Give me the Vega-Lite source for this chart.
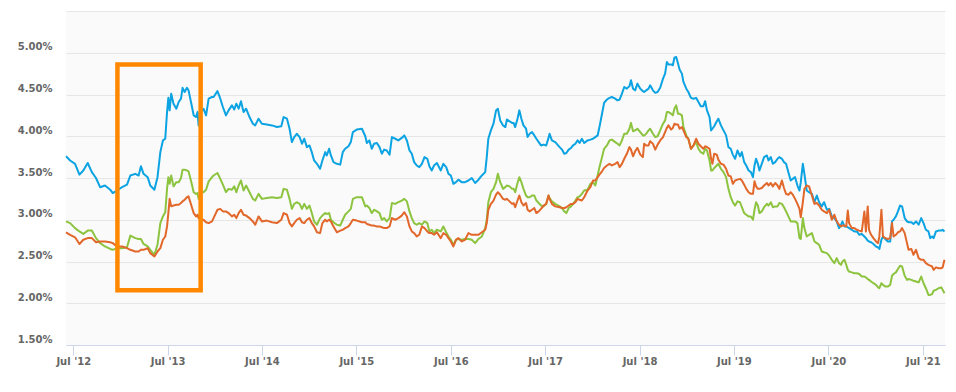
{
  "$schema": "https://vega.github.io/schema/vega-lite/v6.json",
  "width": 879,
  "height": 334,
  "autosize": {"type": "none"},
  "padding": {"left": 66, "top": 11, "right": 11, "bottom": 47},
  "background": "#ffffff",
  "config": {
    "view": {"fill": "#fafafa", "stroke": null},
    "axis": {"labelFont": "DejaVu Sans", "labelFontSize": 10, "labelFontWeight": "bold", "labelColor": "#666666"}
  },
  "layer": [
    {
      "data": {
        "format": {"parse": {"d": "date:'%Y-%j'"}},
        "values": [
          {"d":"2012-155","fixed30":3.76,"fixed15":2.98,"arm51":2.85},
          {"d":"2012-171","fixed30":3.71,"fixed15":2.96,"arm51":2.82},
          {"d":"2012-190","fixed30":3.67,"fixed15":2.90,"arm51":2.79},
          {"d":"2012-207","fixed30":3.54,"fixed15":2.86,"arm51":2.71},
          {"d":"2012-222","fixed30":3.59,"fixed15":2.83,"arm51":2.76},
          {"d":"2012-239","fixed30":3.68,"fixed15":2.87,"arm51":2.78},
          {"d":"2012-255","fixed30":3.57,"fixed15":2.87,"arm51":2.78},
          {"d":"2012-271","fixed30":3.50,"fixed15":2.78,"arm51":2.73},
          {"d":"2012-287","fixed30":3.39,"fixed15":2.72,"arm51":2.74},
          {"d":"2012-306","fixed30":3.41,"fixed15":2.68,"arm51":2.74},
          {"d":"2012-326","fixed30":3.36,"fixed15":2.65,"arm51":2.73},
          {"d":"2012-336","fixed30":3.32,"fixed15":2.64,"arm51":2.72},
          {"d":"2012-352","fixed30":3.35,"fixed15":2.66,"arm51":2.68},
          {"d":"2013-006","fixed30":3.39,"fixed15":2.66,"arm51":2.68},
          {"d":"2013-025","fixed30":3.42,"fixed15":2.67,"arm51":2.66},
          {"d":"2013-038","fixed30":3.53,"fixed15":2.81,"arm51":2.64},
          {"d":"2013-057","fixed30":3.55,"fixed15":2.78,"arm51":2.62},
          {"d":"2013-070","fixed30":3.53,"fixed15":2.77,"arm51":2.62},
          {"d":"2013-079","fixed30":3.64,"fixed15":2.77,"arm51":2.64},
          {"d":"2013-089","fixed30":3.55,"fixed15":2.71,"arm51":2.64},
          {"d":"2013-105","fixed30":3.51,"fixed15":2.68,"arm51":2.66},
          {"d":"2013-115","fixed30":3.41,"fixed15":2.64,"arm51":2.60},
          {"d":"2013-131","fixed30":3.36,"fixed15":2.58,"arm51":2.56},
          {"d":"2013-143","fixed30":3.51,"fixed15":2.70,"arm51":2.62},
          {"d":"2013-154","fixed30":3.81,"fixed15":2.96,"arm51":2.66},
          {"d":"2013-164","fixed30":3.95,"fixed15":3.04,"arm51":2.76},
          {"d":"2013-173","fixed30":3.97,"fixed15":3.09,"arm51":2.80},
          {"d":"2013-180","fixed30":4.29,"fixed15":3.37,"arm51":2.92},
          {"d":"2013-185","fixed30":4.46,"fixed15":3.51,"arm51":3.08},
          {"d":"2013-190","fixed30":4.31,"fixed15":3.43,"arm51":3.25},
          {"d":"2013-196","fixed30":4.51,"fixed15":3.53,"arm51":3.16},
          {"d":"2013-205","fixed30":4.39,"fixed15":3.40,"arm51":3.17},
          {"d":"2013-216","fixed30":4.33,"fixed15":3.45,"arm51":3.18},
          {"d":"2013-225","fixed30":4.41,"fixed15":3.45,"arm51":3.18},
          {"d":"2013-234","fixed30":4.45,"fixed15":3.50,"arm51":3.20},
          {"d":"2013-240","fixed30":4.58,"fixed15":3.60,"arm51":3.22},
          {"d":"2013-248","fixed30":4.53,"fixed15":3.60,"arm51":3.24},
          {"d":"2013-257","fixed30":4.58,"fixed15":3.59,"arm51":3.27},
          {"d":"2013-263","fixed30":4.55,"fixed15":3.58,"arm51":3.28},
          {"d":"2013-274","fixed30":4.39,"fixed15":3.45,"arm51":3.17},
          {"d":"2013-283","fixed30":4.25,"fixed15":3.33,"arm51":3.08},
          {"d":"2013-292","fixed30":4.23,"fixed15":3.31,"arm51":3.04},
          {"d":"2013-298","fixed30":4.29,"fixed15":3.32,"arm51":3.06},
          {"d":"2013-302","fixed30":4.13,"fixed15":3.25,"arm51":3.02},
          {"d":"2013-311","fixed30":4.29,"fixed15":3.33,"arm51":3.00},
          {"d":"2013-321","fixed30":4.33,"fixed15":3.33,"arm51":3.00},
          {"d":"2013-331","fixed30":4.25,"fixed15":3.36,"arm51":2.97},
          {"d":"2013-341","fixed30":4.45,"fixed15":3.46,"arm51":2.96},
          {"d":"2013-354","fixed30":4.47,"fixed15":3.51,"arm51":2.98},
          {"d":"2013-360","fixed30":4.47,"fixed15":3.53,"arm51":3.02},
          {"d":"2014-010","fixed30":4.54,"fixed15":3.56,"arm51":3.12},
          {"d":"2014-021","fixed30":4.45,"fixed15":3.49,"arm51":3.13},
          {"d":"2014-031","fixed30":4.35,"fixed15":3.42,"arm51":3.10},
          {"d":"2014-043","fixed30":4.25,"fixed15":3.33,"arm51":3.10},
          {"d":"2014-053","fixed30":4.31,"fixed15":3.37,"arm51":3.08},
          {"d":"2014-066","fixed30":4.37,"fixed15":3.36,"arm51":3.04},
          {"d":"2014-075","fixed30":4.32,"fixed15":3.40,"arm51":3.06},
          {"d":"2014-083","fixed30":4.39,"fixed15":3.33,"arm51":3.02},
          {"d":"2014-092","fixed30":4.33,"fixed15":3.41,"arm51":3.08},
          {"d":"2014-101","fixed30":4.42,"fixed15":3.47,"arm51":3.12},
          {"d":"2014-111","fixed30":4.29,"fixed15":3.35,"arm51":3.06},
          {"d":"2014-121","fixed30":4.33,"fixed15":3.41,"arm51":3.05},
          {"d":"2014-134","fixed30":4.23,"fixed15":3.33,"arm51":3.02},
          {"d":"2014-147","fixed30":4.15,"fixed15":3.25,"arm51":2.98},
          {"d":"2014-156","fixed30":4.13,"fixed15":3.23,"arm51":2.94},
          {"d":"2014-169","fixed30":4.21,"fixed15":3.31,"arm51":3.04},
          {"d":"2014-182","fixed30":4.15,"fixed15":3.25,"arm51":2.98},
          {"d":"2014-201","fixed30":4.14,"fixed15":3.26,"arm51":2.99},
          {"d":"2014-221","fixed30":4.13,"fixed15":3.27,"arm51":2.97},
          {"d":"2014-240","fixed30":4.11,"fixed15":3.26,"arm51":2.96},
          {"d":"2014-257","fixed30":4.12,"fixed15":3.27,"arm51":3.00},
          {"d":"2014-266","fixed30":4.23,"fixed15":3.37,"arm51":3.08},
          {"d":"2014-279","fixed30":4.21,"fixed15":3.36,"arm51":3.06},
          {"d":"2014-289","fixed30":4.09,"fixed15":3.25,"arm51":2.96},
          {"d":"2014-298","fixed30":3.93,"fixed15":3.13,"arm51":2.92},
          {"d":"2014-307","fixed30":3.99,"fixed15":3.19,"arm51":2.96},
          {"d":"2014-317","fixed30":4.03,"fixed15":3.21,"arm51":3.00},
          {"d":"2014-328","fixed30":3.99,"fixed15":3.19,"arm51":3.02},
          {"d":"2014-337","fixed30":3.91,"fixed15":3.13,"arm51":2.97},
          {"d":"2014-346","fixed30":3.97,"fixed15":3.19,"arm51":2.96},
          {"d":"2014-356","fixed30":3.87,"fixed15":3.13,"arm51":3.00},
          {"d":"2015-001","fixed30":3.89,"fixed15":3.17,"arm51":3.02},
          {"d":"2015-010","fixed30":3.81,"fixed15":3.08,"arm51":2.96},
          {"d":"2015-019","fixed30":3.71,"fixed15":2.98,"arm51":2.92},
          {"d":"2015-030","fixed30":3.67,"fixed15":2.94,"arm51":2.85},
          {"d":"2015-042","fixed30":3.61,"fixed15":3.02,"arm51":2.84},
          {"d":"2015-051","fixed30":3.71,"fixed15":3.05,"arm51":2.96},
          {"d":"2015-062","fixed30":3.81,"fixed15":3.08,"arm51":3.00},
          {"d":"2015-068","fixed30":3.77,"fixed15":3.07,"arm51":2.98},
          {"d":"2015-077","fixed30":3.85,"fixed15":3.08,"arm51":3.00},
          {"d":"2015-084","fixed30":3.77,"fixed15":3.00,"arm51":2.98},
          {"d":"2015-094","fixed30":3.69,"fixed15":2.97,"arm51":2.92},
          {"d":"2015-107","fixed30":3.67,"fixed15":2.94,"arm51":2.85},
          {"d":"2015-120","fixed30":3.66,"fixed15":2.93,"arm51":2.87},
          {"d":"2015-130","fixed30":3.81,"fixed15":3.00,"arm51":2.88},
          {"d":"2015-139","fixed30":3.85,"fixed15":3.06,"arm51":2.90},
          {"d":"2015-152","fixed30":3.88,"fixed15":3.10,"arm51":2.92},
          {"d":"2015-161","fixed30":3.93,"fixed15":3.13,"arm51":2.96},
          {"d":"2015-169","fixed30":4.05,"fixed15":3.25,"arm51":3.00},
          {"d":"2015-184","fixed30":4.08,"fixed15":3.27,"arm51":2.99},
          {"d":"2015-204","fixed30":4.09,"fixed15":3.27,"arm51":2.97},
          {"d":"2015-217","fixed30":4.00,"fixed15":3.16,"arm51":2.97},
          {"d":"2015-223","fixed30":3.92,"fixed15":3.17,"arm51":2.95},
          {"d":"2015-233","fixed30":3.95,"fixed15":3.14,"arm51":2.94},
          {"d":"2015-242","fixed30":3.85,"fixed15":3.08,"arm51":2.93},
          {"d":"2015-251","fixed30":3.91,"fixed15":3.12,"arm51":2.93},
          {"d":"2015-262","fixed30":3.92,"fixed15":3.10,"arm51":2.92},
          {"d":"2015-272","fixed30":3.87,"fixed15":3.08,"arm51":2.92},
          {"d":"2015-281","fixed30":3.79,"fixed15":3.00,"arm51":2.91},
          {"d":"2015-290","fixed30":3.84,"fixed15":3.02,"arm51":2.90},
          {"d":"2015-300","fixed30":3.83,"fixed15":2.98,"arm51":2.90},
          {"d":"2015-311","fixed30":3.78,"fixed15":3.02,"arm51":2.92},
          {"d":"2015-320","fixed30":3.99,"fixed15":3.20,"arm51":3.02},
          {"d":"2015-333","fixed30":3.97,"fixed15":3.19,"arm51":3.00},
          {"d":"2015-345","fixed30":3.95,"fixed15":3.21,"arm51":3.02},
          {"d":"2015-358","fixed30":3.98,"fixed15":3.23,"arm51":3.05},
          {"d":"2016-003","fixed30":4.01,"fixed15":3.25,"arm51":3.09},
          {"d":"2016-013","fixed30":3.95,"fixed15":3.22,"arm51":3.04},
          {"d":"2016-023","fixed30":3.83,"fixed15":3.10,"arm51":2.92},
          {"d":"2016-032","fixed30":3.79,"fixed15":3.02,"arm51":2.86},
          {"d":"2016-041","fixed30":3.69,"fixed15":2.96,"arm51":2.84},
          {"d":"2016-051","fixed30":3.65,"fixed15":2.94,"arm51":2.80},
          {"d":"2016-061","fixed30":3.63,"fixed15":2.96,"arm51":2.82},
          {"d":"2016-071","fixed30":3.67,"fixed15":2.94,"arm51":2.92},
          {"d":"2016-081","fixed30":3.75,"fixed15":2.98,"arm51":2.90},
          {"d":"2016-092","fixed30":3.73,"fixed15":2.96,"arm51":2.86},
          {"d":"2016-100","fixed30":3.64,"fixed15":2.86,"arm51":2.84},
          {"d":"2016-109","fixed30":3.59,"fixed15":2.88,"arm51":2.84},
          {"d":"2016-118","fixed30":3.65,"fixed15":2.84,"arm51":2.82},
          {"d":"2016-129","fixed30":3.68,"fixed15":2.88,"arm51":2.85},
          {"d":"2016-144","fixed30":3.59,"fixed15":2.86,"arm51":2.78},
          {"d":"2016-154","fixed30":3.67,"fixed15":2.92,"arm51":2.84},
          {"d":"2016-165","fixed30":3.63,"fixed15":2.85,"arm51":2.82},
          {"d":"2016-174","fixed30":3.55,"fixed15":2.80,"arm51":2.78},
          {"d":"2016-183","fixed30":3.53,"fixed15":2.76,"arm51":2.74},
          {"d":"2016-193","fixed30":3.43,"fixed15":2.70,"arm51":2.68},
          {"d":"2016-203","fixed30":3.45,"fixed15":2.76,"arm51":2.76},
          {"d":"2016-212","fixed30":3.48,"fixed15":2.77,"arm51":2.78},
          {"d":"2016-225","fixed30":3.45,"fixed15":2.76,"arm51":2.74},
          {"d":"2016-238","fixed30":3.45,"fixed15":2.77,"arm51":2.76},
          {"d":"2016-251","fixed30":3.47,"fixed15":2.77,"arm51":2.84},
          {"d":"2016-264","fixed30":3.50,"fixed15":2.76,"arm51":2.82},
          {"d":"2016-277","fixed30":3.44,"fixed15":2.72,"arm51":2.82},
          {"d":"2016-290","fixed30":3.48,"fixed15":2.77,"arm51":2.82},
          {"d":"2016-303","fixed30":3.53,"fixed15":2.80,"arm51":2.85},
          {"d":"2016-316","fixed30":3.57,"fixed15":2.90,"arm51":2.88},
          {"d":"2016-322","fixed30":3.75,"fixed15":3.00,"arm51":2.96},
          {"d":"2016-328","fixed30":3.97,"fixed15":3.21,"arm51":3.12},
          {"d":"2016-338","fixed30":4.07,"fixed15":3.33,"arm51":3.19},
          {"d":"2016-348","fixed30":4.15,"fixed15":3.37,"arm51":3.23},
          {"d":"2016-358","fixed30":4.31,"fixed15":3.45,"arm51":3.30},
          {"d":"2016-365","fixed30":4.33,"fixed15":3.55,"arm51":3.33},
          {"d":"2017-008","fixed30":4.19,"fixed15":3.45,"arm51":3.30},
          {"d":"2017-019","fixed30":4.13,"fixed15":3.37,"arm51":3.25},
          {"d":"2017-028","fixed30":4.11,"fixed15":3.39,"arm51":3.24},
          {"d":"2017-034","fixed30":4.20,"fixed15":3.41,"arm51":3.25},
          {"d":"2017-044","fixed30":4.18,"fixed15":3.40,"arm51":3.22},
          {"d":"2017-054","fixed30":4.16,"fixed15":3.37,"arm51":3.19},
          {"d":"2017-060","fixed30":4.16,"fixed15":3.37,"arm51":3.20},
          {"d":"2017-066","fixed30":4.11,"fixed15":3.33,"arm51":3.15},
          {"d":"2017-075","fixed30":4.21,"fixed15":3.44,"arm51":3.23},
          {"d":"2017-082","fixed30":4.31,"fixed15":3.51,"arm51":3.29},
          {"d":"2017-090","fixed30":4.21,"fixed15":3.45,"arm51":3.21},
          {"d":"2017-098","fixed30":4.13,"fixed15":3.37,"arm51":3.17},
          {"d":"2017-108","fixed30":4.09,"fixed15":3.29,"arm51":3.20},
          {"d":"2017-114","fixed30":3.99,"fixed15":3.27,"arm51":3.12},
          {"d":"2017-122","fixed30":4.03,"fixed15":3.27,"arm51":3.10},
          {"d":"2017-131","fixed30":4.05,"fixed15":3.29,"arm51":3.12},
          {"d":"2017-140","fixed30":4.01,"fixed15":3.29,"arm51":3.14},
          {"d":"2017-148","fixed30":3.97,"fixed15":3.23,"arm51":3.08},
          {"d":"2017-157","fixed30":3.93,"fixed15":3.20,"arm51":3.10},
          {"d":"2017-166","fixed30":3.89,"fixed15":3.17,"arm51":3.13},
          {"d":"2017-176","fixed30":3.90,"fixed15":3.16,"arm51":3.17},
          {"d":"2017-186","fixed30":3.89,"fixed15":3.19,"arm51":3.19},
          {"d":"2017-195","fixed30":3.98,"fixed15":3.29,"arm51":3.29},
          {"d":"2017-199","fixed30":4.03,"fixed15":3.26,"arm51":3.25},
          {"d":"2017-208","fixed30":3.95,"fixed15":3.22,"arm51":3.19},
          {"d":"2017-221","fixed30":3.93,"fixed15":3.19,"arm51":3.16},
          {"d":"2017-238","fixed30":3.87,"fixed15":3.16,"arm51":3.15},
          {"d":"2017-247","fixed30":3.84,"fixed15":3.14,"arm51":3.14},
          {"d":"2017-256","fixed30":3.79,"fixed15":3.10,"arm51":3.14},
          {"d":"2017-264","fixed30":3.80,"fixed15":3.08,"arm51":3.15},
          {"d":"2017-273","fixed30":3.84,"fixed15":3.14,"arm51":3.17},
          {"d":"2017-282","fixed30":3.86,"fixed15":3.16,"arm51":3.19},
          {"d":"2017-290","fixed30":3.89,"fixed15":3.19,"arm51":3.19},
          {"d":"2017-299","fixed30":3.91,"fixed15":3.23,"arm51":3.21},
          {"d":"2017-307","fixed30":3.95,"fixed15":3.27,"arm51":3.25},
          {"d":"2017-315","fixed30":3.92,"fixed15":3.28,"arm51":3.24},
          {"d":"2017-324","fixed30":3.97,"fixed15":3.31,"arm51":3.23},
          {"d":"2017-333","fixed30":3.92,"fixed15":3.35,"arm51":3.27},
          {"d":"2017-346","fixed30":3.95,"fixed15":3.36,"arm51":3.35},
          {"d":"2017-357","fixed30":3.96,"fixed15":3.43,"arm51":3.39},
          {"d":"2018-002","fixed30":3.97,"fixed15":3.45,"arm51":3.47},
          {"d":"2018-011","fixed30":3.99,"fixed15":3.41,"arm51":3.47},
          {"d":"2018-020","fixed30":4.01,"fixed15":3.53,"arm51":3.51},
          {"d":"2018-027","fixed30":4.11,"fixed15":3.63,"arm51":3.54},
          {"d":"2018-037","fixed30":4.27,"fixed15":3.75,"arm51":3.58},
          {"d":"2018-045","fixed30":4.40,"fixed15":3.85,"arm51":3.62},
          {"d":"2018-056","fixed30":4.44,"fixed15":3.89,"arm51":3.65},
          {"d":"2018-066","fixed30":4.46,"fixed15":3.95,"arm51":3.67},
          {"d":"2018-075","fixed30":4.47,"fixed15":3.96,"arm51":3.65},
          {"d":"2018-088","fixed30":4.45,"fixed15":3.93,"arm51":3.67},
          {"d":"2018-097","fixed30":4.43,"fixed15":3.91,"arm51":3.69},
          {"d":"2018-105","fixed30":4.44,"fixed15":3.89,"arm51":3.63},
          {"d":"2018-114","fixed30":4.51,"fixed15":3.95,"arm51":3.67},
          {"d":"2018-123","fixed30":4.59,"fixed15":4.03,"arm51":3.73},
          {"d":"2018-133","fixed30":4.57,"fixed15":4.03,"arm51":3.79},
          {"d":"2018-143","fixed30":4.60,"fixed15":4.09,"arm51":3.87},
          {"d":"2018-149","fixed30":4.67,"fixed15":4.16,"arm51":3.84},
          {"d":"2018-157","fixed30":4.57,"fixed15":4.06,"arm51":3.76},
          {"d":"2018-165","fixed30":4.55,"fixed15":4.07,"arm51":3.82},
          {"d":"2018-174","fixed30":4.63,"fixed15":4.09,"arm51":3.86},
          {"d":"2018-185","fixed30":4.57,"fixed15":4.05,"arm51":3.78},
          {"d":"2018-195","fixed30":4.54,"fixed15":4.01,"arm51":3.75},
          {"d":"2018-200","fixed30":4.53,"fixed15":4.01,"arm51":3.91},
          {"d":"2018-208","fixed30":4.55,"fixed15":4.03,"arm51":3.89},
          {"d":"2018-217","fixed30":4.57,"fixed15":4.07,"arm51":3.89},
          {"d":"2018-223","fixed30":4.61,"fixed15":4.09,"arm51":3.94},
          {"d":"2018-234","fixed30":4.55,"fixed15":4.03,"arm51":3.91},
          {"d":"2018-243","fixed30":4.52,"fixed15":3.99,"arm51":3.84},
          {"d":"2018-252","fixed30":4.53,"fixed15":4.00,"arm51":3.90},
          {"d":"2018-262","fixed30":4.58,"fixed15":4.07,"arm51":3.95},
          {"d":"2018-273","fixed30":4.69,"fixed15":4.15,"arm51":3.99},
          {"d":"2018-281","fixed30":4.75,"fixed15":4.19,"arm51":4.05},
          {"d":"2018-288","fixed30":4.89,"fixed15":4.29,"arm51":4.10},
          {"d":"2018-294","fixed30":4.86,"fixed15":4.29,"arm51":4.13},
          {"d":"2018-304","fixed30":4.86,"fixed15":4.27,"arm51":4.08},
          {"d":"2018-311","fixed30":4.85,"fixed15":4.25,"arm51":4.10},
          {"d":"2018-317","fixed30":4.94,"fixed15":4.33,"arm51":4.15},
          {"d":"2018-324","fixed30":4.95,"fixed15":4.37,"arm51":4.14},
          {"d":"2018-331","fixed30":4.87,"fixed15":4.27,"arm51":4.14},
          {"d":"2018-337","fixed30":4.80,"fixed15":4.27,"arm51":4.09},
          {"d":"2018-346","fixed30":4.75,"fixed15":4.25,"arm51":4.11},
          {"d":"2018-352","fixed30":4.65,"fixed15":4.11,"arm51":4.07},
          {"d":"2018-363","fixed30":4.57,"fixed15":4.01,"arm51":3.99},
          {"d":"2019-006","fixed30":4.53,"fixed15":3.97,"arm51":3.97},
          {"d":"2019-016","fixed30":4.46,"fixed15":3.85,"arm51":3.85},
          {"d":"2019-026","fixed30":4.45,"fixed15":3.89,"arm51":3.89},
          {"d":"2019-036","fixed30":4.46,"fixed15":3.93,"arm51":3.97},
          {"d":"2019-045","fixed30":4.41,"fixed15":3.85,"arm51":3.91},
          {"d":"2019-054","fixed30":4.36,"fixed15":3.81,"arm51":3.88},
          {"d":"2019-064","fixed30":4.36,"fixed15":3.79,"arm51":3.85},
          {"d":"2019-071","fixed30":4.42,"fixed15":3.85,"arm51":3.88},
          {"d":"2019-078","fixed30":4.31,"fixed15":3.83,"arm51":3.87},
          {"d":"2019-088","fixed30":4.23,"fixed15":3.71,"arm51":3.85},
          {"d":"2019-094","fixed30":4.07,"fixed15":3.59,"arm51":3.73},
          {"d":"2019-099","fixed30":4.09,"fixed15":3.59,"arm51":3.67},
          {"d":"2019-106","fixed30":4.12,"fixed15":3.62,"arm51":3.79},
          {"d":"2019-116","fixed30":4.18,"fixed15":3.65,"arm51":3.78},
          {"d":"2019-122","fixed30":4.21,"fixed15":3.67,"arm51":3.72},
          {"d":"2019-132","fixed30":4.13,"fixed15":3.61,"arm51":3.67},
          {"d":"2019-142","fixed30":4.07,"fixed15":3.57,"arm51":3.66},
          {"d":"2019-152","fixed30":4.01,"fixed15":3.51,"arm51":3.61},
          {"d":"2019-161","fixed30":3.87,"fixed15":3.37,"arm51":3.53},
          {"d":"2019-170","fixed30":3.85,"fixed15":3.27,"arm51":3.52},
          {"d":"2019-178","fixed30":3.78,"fixed15":3.21,"arm51":3.43},
          {"d":"2019-187","fixed30":3.73,"fixed15":3.17,"arm51":3.47},
          {"d":"2019-196","fixed30":3.83,"fixed15":3.22,"arm51":3.48},
          {"d":"2019-206","fixed30":3.76,"fixed15":3.21,"arm51":3.49},
          {"d":"2019-213","fixed30":3.81,"fixed15":3.15,"arm51":3.47},
          {"d":"2019-222","fixed30":3.69,"fixed15":3.08,"arm51":3.42},
          {"d":"2019-230","fixed30":3.65,"fixed15":3.06,"arm51":3.37},
          {"d":"2019-239","fixed30":3.59,"fixed15":3.04,"arm51":3.33},
          {"d":"2019-248","fixed30":3.57,"fixed15":3.04,"arm51":3.31},
          {"d":"2019-256","fixed30":3.51,"fixed15":3.00,"arm51":3.31},
          {"d":"2019-262","fixed30":3.65,"fixed15":3.12,"arm51":3.46},
          {"d":"2019-268","fixed30":3.73,"fixed15":3.21,"arm51":3.40},
          {"d":"2019-275","fixed30":3.67,"fixed15":3.17,"arm51":3.37},
          {"d":"2019-281","fixed30":3.59,"fixed15":3.08,"arm51":3.37},
          {"d":"2019-290","fixed30":3.67,"fixed15":3.10,"arm51":3.38},
          {"d":"2019-299","fixed30":3.75,"fixed15":3.15,"arm51":3.41},
          {"d":"2019-310","fixed30":3.77,"fixed15":3.19,"arm51":3.44},
          {"d":"2019-316","fixed30":3.71,"fixed15":3.17,"arm51":3.41},
          {"d":"2019-325","fixed30":3.75,"fixed15":3.21,"arm51":3.44},
          {"d":"2019-333","fixed30":3.67,"fixed15":3.15,"arm51":3.40},
          {"d":"2019-342","fixed30":3.69,"fixed15":3.16,"arm51":3.44},
          {"d":"2019-351","fixed30":3.73,"fixed15":3.16,"arm51":3.41},
          {"d":"2019-358","fixed30":3.75,"fixed15":3.20,"arm51":3.37},
          {"d":"2020-003","fixed30":3.73,"fixed15":3.19,"arm51":3.47},
          {"d":"2020-011","fixed30":3.69,"fixed15":3.15,"arm51":3.38},
          {"d":"2020-019","fixed30":3.67,"fixed15":3.10,"arm51":3.31},
          {"d":"2020-028","fixed30":3.57,"fixed15":3.04,"arm51":3.30},
          {"d":"2020-037","fixed30":3.47,"fixed15":2.98,"arm51":3.33},
          {"d":"2020-045","fixed30":3.49,"fixed15":2.98,"arm51":3.30},
          {"d":"2020-054","fixed30":3.51,"fixed15":2.98,"arm51":3.25},
          {"d":"2020-063","fixed30":3.41,"fixed15":2.96,"arm51":3.19},
          {"d":"2020-071","fixed30":3.35,"fixed15":2.78,"arm51":3.13},
          {"d":"2020-076","fixed30":3.45,"fixed15":2.77,"arm51":3.03},
          {"d":"2020-084","fixed30":3.67,"fixed15":3.02,"arm51":3.21},
          {"d":"2020-090","fixed30":3.55,"fixed15":2.90,"arm51":3.37},
          {"d":"2020-099","fixed30":3.35,"fixed15":2.80,"arm51":3.41},
          {"d":"2020-108","fixed30":3.33,"fixed15":2.82,"arm51":3.40},
          {"d":"2020-119","fixed30":3.31,"fixed15":2.84,"arm51":3.29},
          {"d":"2020-129","fixed30":3.21,"fixed15":2.74,"arm51":3.19},
          {"d":"2020-138","fixed30":3.29,"fixed15":2.72,"arm51":3.20},
          {"d":"2020-147","fixed30":3.21,"fixed15":2.70,"arm51":3.17},
          {"d":"2020-157","fixed30":3.16,"fixed15":2.62,"arm51":3.12},
          {"d":"2020-166","fixed30":3.21,"fixed15":2.61,"arm51":3.10},
          {"d":"2020-177","fixed30":3.12,"fixed15":2.60,"arm51":3.08},
          {"d":"2020-186","fixed30":3.13,"fixed15":2.57,"arm51":3.12},
          {"d":"2020-196","fixed30":3.04,"fixed15":2.52,"arm51":3.00},
          {"d":"2020-206","fixed30":3.02,"fixed15":2.48,"arm51":3.06},
          {"d":"2020-215","fixed30":2.98,"fixed15":2.54,"arm51":2.98},
          {"d":"2020-224","fixed30":2.90,"fixed15":2.48,"arm51":2.94},
          {"d":"2020-232","fixed30":2.94,"fixed15":2.46,"arm51":2.92},
          {"d":"2020-237","fixed30":2.98,"fixed15":2.50,"arm51":2.93},
          {"d":"2020-245","fixed30":2.92,"fixed15":2.52,"arm51":2.93},
          {"d":"2020-252","fixed30":2.92,"fixed15":2.46,"arm51":2.92},
          {"d":"2020-258","fixed30":2.91,"fixed15":2.40,"arm51":3.11},
          {"d":"2020-263","fixed30":2.90,"fixed15":2.38,"arm51":2.96},
          {"d":"2020-273","fixed30":2.88,"fixed15":2.37,"arm51":2.90},
          {"d":"2020-283","fixed30":2.86,"fixed15":2.36,"arm51":2.90},
          {"d":"2020-293","fixed30":2.86,"fixed15":2.36,"arm51":2.88},
          {"d":"2020-302","fixed30":2.82,"fixed15":2.35,"arm51":2.87},
          {"d":"2020-312","fixed30":2.83,"fixed15":2.32,"arm51":2.86},
          {"d":"2020-322","fixed30":2.80,"fixed15":2.32,"arm51":3.10},
          {"d":"2020-328","fixed30":2.78,"fixed15":2.31,"arm51":2.86},
          {"d":"2020-335","fixed30":2.75,"fixed15":2.29,"arm51":3.16},
          {"d":"2020-340","fixed30":2.74,"fixed15":2.28,"arm51":2.88},
          {"d":"2020-348","fixed30":2.73,"fixed15":2.26,"arm51":2.82},
          {"d":"2020-357","fixed30":2.71,"fixed15":2.24,"arm51":2.78},
          {"d":"2021-001","fixed30":2.68,"fixed15":2.22,"arm51":2.74},
          {"d":"2021-009","fixed30":2.67,"fixed15":2.19,"arm51":2.72},
          {"d":"2021-014","fixed30":2.65,"fixed15":2.18,"arm51":2.80},
          {"d":"2021-022","fixed30":2.76,"fixed15":2.24,"arm51":3.12},
          {"d":"2021-028","fixed30":2.80,"fixed15":2.22,"arm51":2.80},
          {"d":"2021-037","fixed30":2.77,"fixed15":2.20,"arm51":2.78},
          {"d":"2021-047","fixed30":2.74,"fixed15":2.20,"arm51":2.77},
          {"d":"2021-056","fixed30":2.74,"fixed15":2.22,"arm51":2.78},
          {"d":"2021-063","fixed30":2.98,"fixed15":2.33,"arm51":2.96},
          {"d":"2021-069","fixed30":3.00,"fixed15":2.35,"arm51":2.80},
          {"d":"2021-078","fixed30":3.04,"fixed15":2.37,"arm51":2.82},
          {"d":"2021-086","fixed30":3.10,"fixed15":2.41,"arm51":2.85},
          {"d":"2021-094","fixed30":3.17,"fixed15":2.45,"arm51":2.86},
          {"d":"2021-102","fixed30":3.16,"fixed15":2.44,"arm51":2.90},
          {"d":"2021-112","fixed30":3.02,"fixed15":2.33,"arm51":2.84},
          {"d":"2021-121","fixed30":2.98,"fixed15":2.28,"arm51":2.72},
          {"d":"2021-127","fixed30":2.97,"fixed15":2.29,"arm51":2.64},
          {"d":"2021-138","fixed30":2.97,"fixed15":2.28,"arm51":2.65},
          {"d":"2021-146","fixed30":2.95,"fixed15":2.27,"arm51":2.58},
          {"d":"2021-156","fixed30":2.98,"fixed15":2.26,"arm51":2.64},
          {"d":"2021-166","fixed30":2.94,"fixed15":2.25,"arm51":2.54},
          {"d":"2021-176","fixed30":3.02,"fixed15":2.32,"arm51":2.52},
          {"d":"2021-185","fixed30":2.96,"fixed15":2.24,"arm51":2.52},
          {"d":"2021-194","fixed30":2.88,"fixed15":2.18,"arm51":2.48},
          {"d":"2021-204","fixed30":2.86,"fixed15":2.10,"arm51":2.46},
          {"d":"2021-211","fixed30":2.78,"fixed15":2.10,"arm51":2.45},
          {"d":"2021-218","fixed30":2.80,"fixed15":2.11,"arm51":2.44},
          {"d":"2021-224","fixed30":2.78,"fixed15":2.15,"arm51":2.40},
          {"d":"2021-233","fixed30":2.86,"fixed15":2.16,"arm51":2.43},
          {"d":"2021-243","fixed30":2.87,"fixed15":2.18,"arm51":2.42},
          {"d":"2021-254","fixed30":2.87,"fixed15":2.19,"arm51":2.42},
          {"d":"2021-259","fixed30":2.88,"fixed15":2.16,"arm51":2.43},
          {"d":"2021-266","fixed30":2.86,"fixed15":2.12,"arm51":2.52}
        ]
      },
      "transform": [{"fold": ["fixed30", "fixed15", "arm51"], "as": ["series", "rate"]}],
      "mark": {"type": "line", "strokeWidth": 2, "strokeJoin": "round"},
      "encoding": {
        "x": {
          "field": "d", "type": "temporal",
          "scale": {"domain": [{"year": 2012, "month": 6, "date": 3}, {"year": 2021, "month": 9, "date": 25}], "nice": false},
          "axis": {
            "title": null,
            "values": [
              {"year": 2012, "month": 7, "date": 1}, {"year": 2013, "month": 7, "date": 1},
              {"year": 2014, "month": 7, "date": 1}, {"year": 2015, "month": 7, "date": 1},
              {"year": 2016, "month": 7, "date": 1}, {"year": 2017, "month": 7, "date": 1},
              {"year": 2018, "month": 7, "date": 1}, {"year": 2019, "month": 7, "date": 1},
              {"year": 2020, "month": 7, "date": 1}, {"year": 2021, "month": 7, "date": 1}
            ],
            "format": "%b '%y",
            "grid": false,
            "domainColor": "#ccd6eb",
            "tickColor": "#ccd6eb",
            "tickSize": 10,
            "labelPadding": 1,
            "labelFlush": false,
            "labelOverlap": false
          }
        },
        "y": {
          "field": "rate", "type": "quantitative",
          "scale": {"domain": [1.5, 5.5], "nice": false, "zero": false},
          "axis": {
            "title": null,
            "values": [1.5, 2, 2.5, 3, 3.5, 4, 4.5, 5, 5.5],
            "labelExpr": "datum.value > 5.25 ? '' : format(datum.value, '.2f') + '%'",
            "domain": false,
            "ticks": false,
            "gridColor": "#e6e6e6",
            "gridWidth": 1,
            "labelPadding": 14,
            "labelBaseline": "middle",
            "labelOffset": -6
          }
        },
        "color": {
          "field": "series", "type": "nominal",
          "scale": {"domain": ["fixed30", "fixed15", "arm51"], "range": ["#0ba3e2", "#8cc33f", "#e2672a"]},
          "legend": null
        },
        "order": {"field": "d", "type": "temporal"}
      }
    },
    {
      "data": {
        "format": {"parse": {"start": "date:'%Y-%j'", "end": "date:'%Y-%j'"}},
        "values": [{"start": "2012-354", "end": "2013-310", "low": 2.155, "high": 4.86}]
      },
      "mark": {"type": "rect", "fill": null, "stroke": "#ff8800", "strokeWidth": 4.5},
      "encoding": {
        "x": {"field": "start", "type": "temporal"},
        "x2": {"field": "end"},
        "y": {"field": "high", "type": "quantitative"},
        "y2": {"field": "low"}
      }
    }
  ]
}
